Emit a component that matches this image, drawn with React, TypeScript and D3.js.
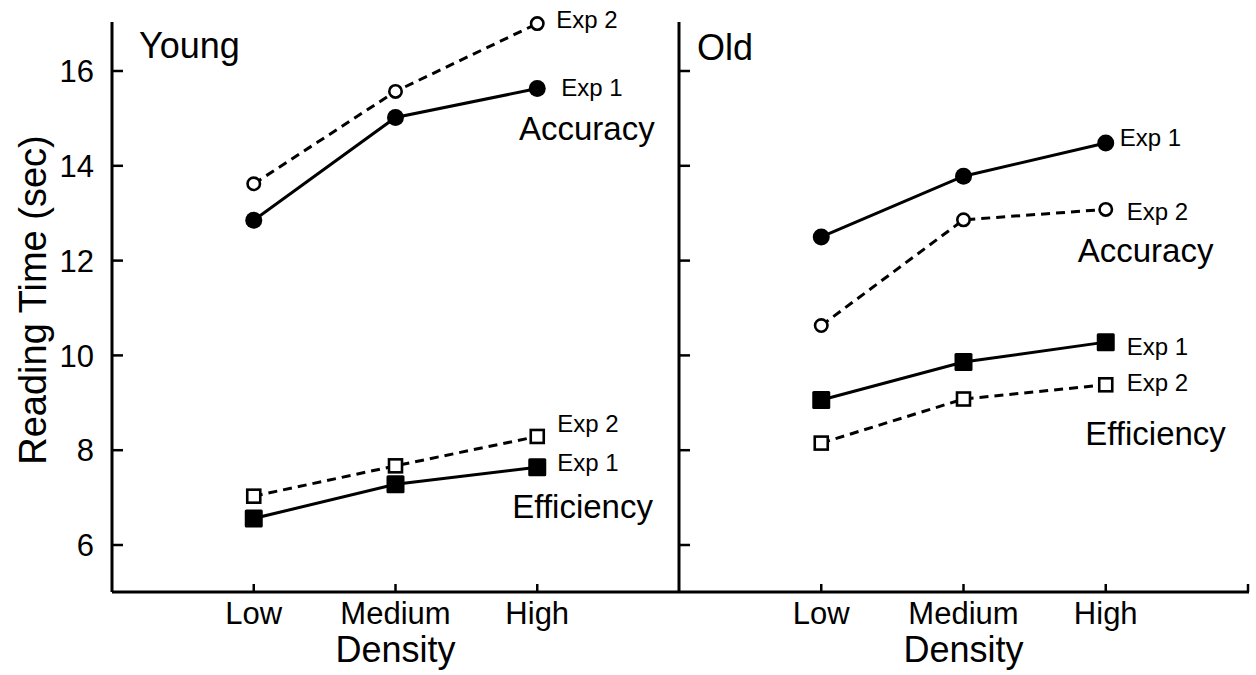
import React from 'react';
import * as d3 from 'd3';

const categories = ['Low', 'Medium', 'High'];
const yTicks = [6, 8, 10, 12, 14, 16];

// Young readers
const youngAccExp1 = [12.85, 15.02, 15.63];
const youngAccExp2 = [13.62, 15.57, 17.0];
const youngEffExp1 = [6.56, 7.28, 7.64];
const youngEffExp2 = [7.03, 7.67, 8.29];

// Old readers
const oldAccExp1 = [12.5, 13.78, 14.48];
const oldAccExp2 = [10.63, 12.86, 13.08];
const oldEffExp1 = [9.06, 9.86, 10.28];
const oldEffExp2 = [8.15, 9.08, 9.38];

type Series = {
  values: number[];
  label: string;
  dashed: boolean;
  shape: 'circle' | 'square';
  filled: boolean;
  dx: number;
  dy: number;
};

const panels = [
  {
    title: 'Young',
    x0: 112,
    x1: 679,
    showLabels: true,
    series: [
      { values: youngAccExp2, label: 'Exp 2', dashed: true, shape: 'circle', filled: false, dx: 19, dy: -4 },
      { values: youngAccExp1, label: 'Exp 1', dashed: false, shape: 'circle', filled: true, dx: 24, dy: -1 },
      { values: youngEffExp2, label: 'Exp 2', dashed: true, shape: 'square', filled: false, dx: 20, dy: -13 },
      { values: youngEffExp1, label: 'Exp 1', dashed: false, shape: 'square', filled: true, dx: 20, dy: -5 },
    ] as Series[],
    groups: [
      { text: 'Accuracy', cx: 3.35, v: 14.8 },
      { text: 'Efficiency', cx: 3.32, v: 6.82 },
    ],
  },
  {
    title: 'Old',
    x0: 679,
    x1: 1248,
    showLabels: false,
    series: [
      { values: oldAccExp1, label: 'Exp 1', dashed: false, shape: 'circle', filled: true, dx: 14, dy: -6 },
      { values: oldAccExp2, label: 'Exp 2', dashed: true, shape: 'circle', filled: false, dx: 21, dy: 2 },
      { values: oldEffExp1, label: 'Exp 1', dashed: false, shape: 'square', filled: true, dx: 21, dy: 4 },
      { values: oldEffExp2, label: 'Exp 2', dashed: true, shape: 'square', filled: false, dx: 21, dy: -2 },
    ] as Series[],
    groups: [
      { text: 'Accuracy', cx: 3.28, v: 12.22 },
      { text: 'Efficiency', cx: 3.35, v: 8.36 },
    ],
  },
];

const W = 1256;
const H = 675;
const FONT = "'Liberation Sans', Arial, Helvetica, sans-serif";

const App = () => {
  const yScale = d3.scaleLinear().domain([5, 17]).range([592.4, 23.6]);
  const yTop = 22;
  const yBottom = 592;

  return (
    <svg
      width={W}
      height={H}
      viewBox={`0 0 ${W} ${H}`}
      style={{ position: 'absolute', left: 0, top: 0, background: '#fff' }}
      fontFamily={FONT}
    >
      <rect width={W} height={H} fill="#fff" />
      <text
        transform={`translate(46,300) rotate(-90)`}
        textAnchor="middle"
        fontSize={38}
        fill="#000"
      >
        Reading Time (sec)
      </text>
      {/* bottom axis line */}
      <line x1={panels[0].x0} x2={panels[1].x1 + 1} y1={yBottom} y2={yBottom} stroke="#000" strokeWidth={3} />
      {panels.map((p, pi) => {
        const x = d3.scaleLinear().domain([0, 4]).range([p.x0, p.x1]);
        const line = d3
          .line<number>()
          .x((_, i) => x(i + 1))
          .y(d => yScale(d));
        return (
          <g key={pi}>
            <line x1={p.x0} x2={p.x0} y1={yTop} y2={yBottom} stroke="#000" strokeWidth={3} />
            {yTicks.map(t => (
              <g key={t}>
                <line x1={p.x0} x2={p.x0 + 11} y1={yScale(t)} y2={yScale(t)} stroke="#000" strokeWidth={2.5} />
                {p.showLabels && (
                  <text x={p.x0 - 18} y={yScale(t)} dy="0.36em" textAnchor="end" fontSize={31}>
                    {t}
                  </text>
                )}
              </g>
            ))}
            {categories.map((c, i) => (
              <g key={c}>
                <line x1={x(i + 1)} x2={x(i + 1)} y1={yBottom} y2={yBottom - 8} stroke="#000" strokeWidth={2.5} />
                <text x={x(i + 1)} y={624} textAnchor="middle" fontSize={31}>
                  {c}
                </text>
              </g>
            ))}
            {pi === 1 && (
              <line x1={x(4)} x2={x(4)} y1={yBottom} y2={yBottom - 8} stroke="#000" strokeWidth={2.5} />
            )}
            <text x={x(2)} y={662} textAnchor="middle" fontSize={36}>
              Density
            </text>
            <text x={p.x0 + (pi === 0 ? 27 : 18)} y={pi === 0 ? 58 : 60} fontSize={36}>
              {p.title}
            </text>
            {p.series.map((s, si) => (
              <g key={si}>
                <path
                  d={line(s.values) || ''}
                  fill="none"
                  stroke="#000"
                  strokeWidth={3}
                  strokeDasharray={s.dashed ? '9 6' : undefined}
                />
                {s.values.map((v, i) => {
                  const cx = x(i + 1);
                  const cy = yScale(v);
                  if (s.shape === 'circle') {
                    return s.filled ? (
                      <circle key={i} cx={cx} cy={cy} r={8.5} fill="#000" />
                    ) : (
                      <circle key={i} cx={cx} cy={cy} r={6.2} fill="#fff" stroke="#000" strokeWidth={2.6} />
                    );
                  }
                  return s.filled ? (
                    <rect key={i} x={cx - 9} y={cy - 9} width={18} height={18} rx={1.5} fill="#000" />
                  ) : (
                    <rect key={i} x={cx - 6.5} y={cy - 6.5} width={13} height={13} fill="#fff" stroke="#000" strokeWidth={2.6} />
                  );
                })}
                <text
                  x={x(3) + s.dx}
                  y={yScale(s.values[2]) + s.dy}
                  dy="0.36em"
                  fontSize={24}
                >
                  {s.label}
                </text>
              </g>
            ))}
            {p.groups.map(g => (
              <text key={g.text} x={x(g.cx)} y={yScale(g.v)} dy="0.36em" textAnchor="middle" fontSize={33}>
                {g.text}
              </text>
            ))}
          </g>
        );
      })}
    </svg>
  );
};

export default App;
